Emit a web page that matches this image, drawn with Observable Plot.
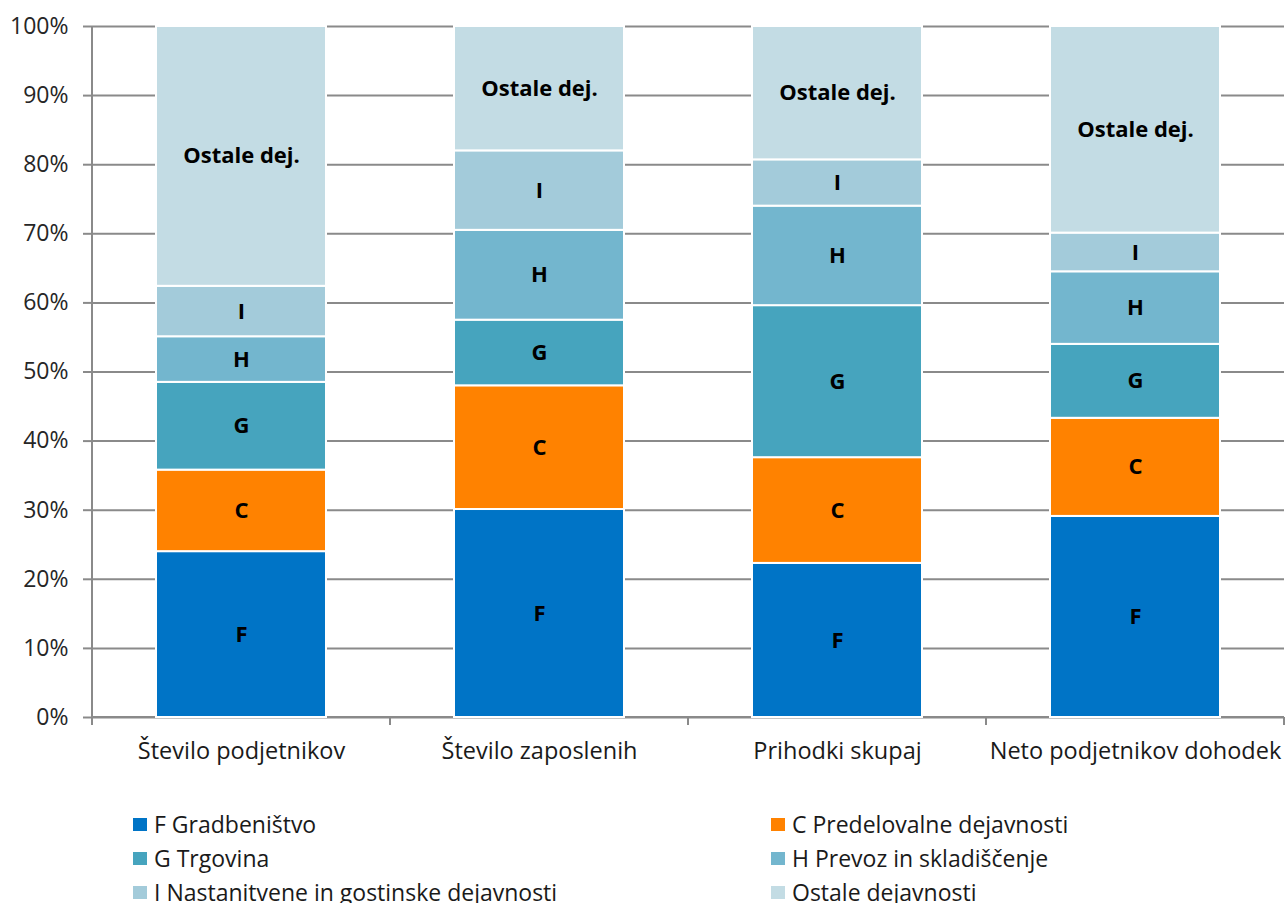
<!DOCTYPE html>
<html>
<head>
<meta charset="utf-8">
<script src="https://cdn.jsdelivr.net/npm/d3@7"></script>
<script src="https://cdn.jsdelivr.net/npm/@observablehq/plot@0.6"></script>
<style>
  html, body { margin: 0; padding: 0; background: #fff; }
  #chart { position: relative; width: 1285px; }
  .legend { position: relative; width: 1285px; height: 113px; font-family: "Open Sans", sans-serif; font-size: 23px; color: #1a1a1a; }
  .legend .item { position: absolute; display: flex; align-items: center; white-space: nowrap; line-height: 28px; }
  .legend .sw { width: 14px; height: 13px; margin-right: 7px; }
</style>
</head>
<body>
<div id="chart"></div>
<div class="legend" id="legend"></div>
<script>
// ---- data ----
const categories = ["Število podjetnikov", "Število zaposlenih", "Prihodki skupaj", "Neto podjetnikov dohodek"];
const seriesKeys = ["F", "C", "G", "H", "I", "Ostale"];
const seriesNames = ["F Gradbeništvo", "C Predelovalne dejavnosti", "G Trgovina", "H Prevoz in skladiščenje", "I Nastanitvene in gostinske dejavnosti", "Ostale dejavnosti"];
const barLabels = ["F", "C", "G", "H", "I", "Ostale dej."];
const seriesColors = ["#0074C6", "#FF8200", "#46A4BE", "#73B6CE", "#A3CBDA", "#C3DCE4"];
const valuesF = [24.0, 30.1, 22.3, 29.1];
const valuesC = [11.8, 17.9, 15.3, 14.2];
const valuesG = [12.7, 9.5, 22.0, 10.7];
const valuesH = [6.6, 13.0, 14.4, 10.5];
const valuesI = [7.3, 11.5, 6.7, 5.6];
const valuesOstale = [37.6, 18.0, 19.3, 29.9];
const yTicks = [0, 10, 20, 30, 40, 50, 60, 70, 80, 90, 100];

const seriesValues = [valuesF, valuesC, valuesG, valuesH, valuesI, valuesOstale];
const data = [];
seriesKeys.forEach((s, si) => {
  categories.forEach((c, ci) => {
    data.push({cat: c, series: s, value: seriesValues[si][ci], label: barLabels[si]});
  });
});

const FONT = "'Open Sans', sans-serif";
const GRID = "#8a8a8a";

// custom mark: left axis line, bottom axis line and category separator ticks, derived from scales
function axisDecor(index, scales, values, dimensions) {
  const g = d3.create("svg:g");
  const x = scales.x, y = scales.y;
  const step = x.step();
  const y0 = y(0), y100 = y(100);
  const xl = dimensions.marginLeft;
  g.append("line").attr("x1", xl).attr("x2", xl).attr("y1", y100).attr("y2", y0 + 8)
    .attr("stroke", GRID).attr("stroke-width", 2);
  g.append("line").attr("x1", xl).attr("x2", dimensions.width - dimensions.marginRight).attr("y1", y0).attr("y2", y0)
    .attr("stroke", GRID).attr("stroke-width", 2);
  categories.forEach((c) => {
    const xs = x(c) + x.bandwidth() / 2 + step / 2;
    g.append("line").attr("x1", xs).attr("x2", xs).attr("y1", y0).attr("y2", y0 + 8)
      .attr("stroke", GRID).attr("stroke-width", 2);
  });
  return g.node();
}

const plot = Plot.plot({
  width: 1285,
  height: 790,
  marginLeft: 92,
  marginRight: 1,
  marginTop: 26,
  marginBottom: 73,
  style: {fontFamily: FONT, background: "#fff"},
  x: {domain: categories, paddingInner: 0.43, paddingOuter: 0.215, align: 0.5, axis: null},
  y: {domain: [0, 100], axis: null},
  color: {domain: seriesKeys, range: seriesColors},
  marks: [
    Plot.gridY(yTicks, {stroke: GRID, strokeOpacity: 1, strokeWidth: 2}),
    Plot.axisY(yTicks, {tickFormat: d => d + "%", tickSize: 9, tickPadding: 15, stroke: GRID, strokeWidth: 2, fontSize: 23, fill: "#262626", label: null}),
    Plot.axisX({tickSize: 0, tickPadding: 25, fontSize: 23.5, fill: "#1a1a1a", label: null}),
    axisDecor,
    Plot.barY(data, {x: "cat", y: "value", fill: "series", order: seriesKeys, stroke: "#fff", strokeWidth: 2}),
    Plot.text(data, Plot.stackY({x: "cat", y: "value", z: "series", order: seriesKeys, text: "label", fontSize: 22, fontWeight: "bold", fill: "#000"}))
  ]
});
document.getElementById("chart").appendChild(plot);

// legend (HTML, below the SVG)
const legend = document.getElementById("legend");
const colLeft = [133, 771];
seriesNames.forEach((name, i) => {
  const col = i % 2, row = Math.floor(i / 2);
  const item = document.createElement("div");
  item.className = "item";
  item.style.left = colLeft[col] + "px";
  item.style.top = (20 + row * 34) + "px";
  item.style.height = "28px";
  const sw = document.createElement("span");
  sw.className = "sw";
  sw.style.background = seriesColors[i];
  const tx = document.createElement("span");
  tx.textContent = name;
  item.appendChild(sw);
  item.appendChild(tx);
  legend.appendChild(item);
});
</script>
</body>
</html>
